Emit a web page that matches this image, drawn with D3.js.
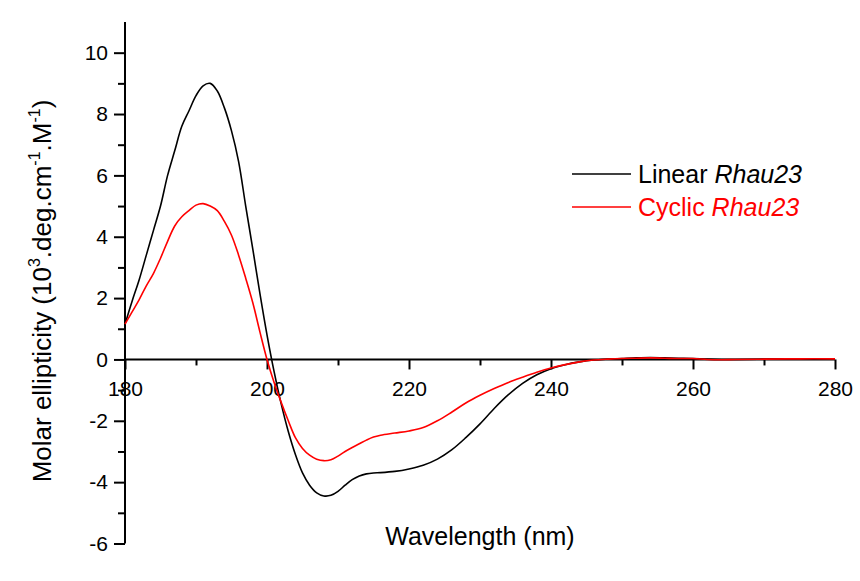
<!DOCTYPE html>
<html>
<head>
<meta charset="utf-8">
<script src="https://cdn.jsdelivr.net/npm/d3@7"></script>
<style>
  html, body { margin: 0; padding: 0; background: #fff; }
  svg { display: block; font-family: Arial, "Liberation Sans", sans-serif; }
</style>
</head>
<body>
<svg id="chart" width="860" height="581"></svg>
<script>
// ---- data ----
const wavelengths = [180,181,182,183,184,185,186,187,188,189,190,191,192,193,194,195,196,197,198,199,200,
  201,202,203,204,205,206,207,208,209,210,211,212,213,214,215,216,218,220,222,224,226,228,230,232,234,236,238,240,
  242,244,246,248,250,252,254,256,258,260,262,264,266,270,275,280];
const linearRhau23 = [1.15,1.9,2.6,3.4,4.2,5.0,6.0,6.8,7.6,8.1,8.6,8.92,9.0,8.75,8.2,7.45,6.45,5.0,3.6,2.15,0.8,
  -0.4,-1.45,-2.35,-3.1,-3.7,-4.1,-4.35,-4.45,-4.43,-4.3,-4.1,-3.92,-3.8,-3.73,-3.7,-3.69,-3.65,-3.57,-3.45,-3.25,-2.95,-2.55,-2.1,-1.6,-1.15,-0.78,-0.5,-0.3,
  -0.17,-0.08,-0.02,0.01,0.03,0.05,0.06,0.05,0.04,0.03,0.01,0.0,0.0,0.01,0.02,0.02];
const cyclicRhau23 = [1.15,1.55,1.95,2.4,2.8,3.3,3.85,4.35,4.65,4.85,5.03,5.08,5.0,4.85,4.5,4.05,3.4,2.65,1.85,0.9,0.0,
  -0.75,-1.4,-2.0,-2.55,-2.9,-3.12,-3.25,-3.3,-3.27,-3.15,-3.0,-2.87,-2.75,-2.63,-2.53,-2.47,-2.4,-2.33,-2.22,-2.0,-1.72,-1.42,-1.17,-0.95,-0.75,-0.58,-0.42,-0.28,
  -0.17,-0.08,-0.02,0.01,0.03,0.04,0.05,0.04,0.03,0.03,0.0,-0.01,0.0,0.01,0.02,0.02];
const xMajorTicks = [180,200,220,240,260,280];
const xMinorTicks = [190,210,230,250,270];
const yMajorTicks = [-6,-4,-2,0,2,4,6,8,10];
const yMinorTicks = [-5,-3,-1,1,3,5,7,9];
const seriesNames = ["Linear", "Cyclic"];
const seriesColors = ["#000000", "#ff0000"];

// ---- layout ----
const svg = d3.select("#chart");
const x = d3.scaleLinear().domain([180, 280]).range([125, 835]);
const y = d3.scaleLinear().domain([-6, 11]).range([543.5, 22]);
const fmt = d => String(d);

// axes
const axisStroke = 2;
const gy = svg.append("g").attr("transform", `translate(${x(180)},0)`);
gy.call(d3.axisLeft(y).tickValues(yMajorTicks).tickSize(11).tickPadding(6).tickFormat(fmt));
gy.call(g => g.select(".domain").attr("d", `M0,${y(11)}V${y(-6)}`));
const gyMinor = svg.append("g").attr("transform", `translate(${x(180)},0)`)
  .call(d3.axisLeft(y).tickValues(yMinorTicks).tickSize(7).tickFormat(""));
gyMinor.select(".domain").remove();

const gx = svg.append("g").attr("transform", `translate(0,${y(0)})`);
gx.call(d3.axisBottom(x).tickValues(xMajorTicks).tickSize(10).tickPadding(12).tickFormat(fmt));
gx.call(g => g.select(".domain").attr("d", `M${x(180)},0H${x(280)}`));
const gxMinor = svg.append("g").attr("transform", `translate(0,${y(0)})`)
  .call(d3.axisBottom(x).tickValues(xMinorTicks).tickSize(6).tickFormat(""));
gxMinor.select(".domain").remove();

svg.selectAll(".domain, .tick line").attr("stroke", "#000").attr("stroke-width", axisStroke);
svg.selectAll(".tick text").attr("font-size", 21).attr("fill", "#000")
  .attr("font-family", "Arial, 'Liberation Sans', sans-serif");

// curves
const series = [linearRhau23, cyclicRhau23];
const line = d3.line()
  .x((d, i) => x(wavelengths[i]))
  .y(d => y(d))
  .curve(d3.curveCatmullRom.alpha(0.5));
series.forEach((vals, k) => {
  svg.append("path")
    .datum(vals)
    .attr("fill", "none")
    .attr("stroke", seriesColors[k])
    .attr("stroke-width", 1.6)
    .attr("d", line);
});

// legend
const legendY = [174, 207];
seriesNames.forEach((name, k) => {
  svg.append("line")
    .attr("x1", 572).attr("x2", 631)
    .attr("y1", legendY[k]).attr("y2", legendY[k])
    .attr("stroke", seriesColors[k]).attr("stroke-width", 1.6);
  const t = svg.append("text")
    .attr("x", 638).attr("y", legendY[k] + 9)
    .attr("font-size", 25).attr("fill", seriesColors[k]);
  t.append("tspan").text(name + " ");
  t.append("tspan").attr("font-style", "italic").text("Rhau23");
});

// axis titles
svg.append("text")
  .attr("x", 480).attr("y", 545)
  .attr("text-anchor", "middle")
  .attr("font-size", 25).attr("fill", "#000")
  .text("Wavelength (nm)");

const yl = svg.append("text")
  .attr("transform", "translate(51,291) rotate(-90)")
  .attr("text-anchor", "middle")
  .attr("font-size", 26).attr("fill", "#000");
yl.append("tspan").text("Molar ellipticity (10");
yl.append("tspan").attr("font-size", 16).attr("dy", -11).text("3");
yl.append("tspan").attr("dy", 11).text(".deg.cm");
yl.append("tspan").attr("font-size", 16).attr("dy", -11).text("-1");
yl.append("tspan").attr("dy", 11).text(".M");
yl.append("tspan").attr("font-size", 16).attr("dy", -11).text("-1");
yl.append("tspan").attr("dy", 11).text(")");
</script>
</body>
</html>
